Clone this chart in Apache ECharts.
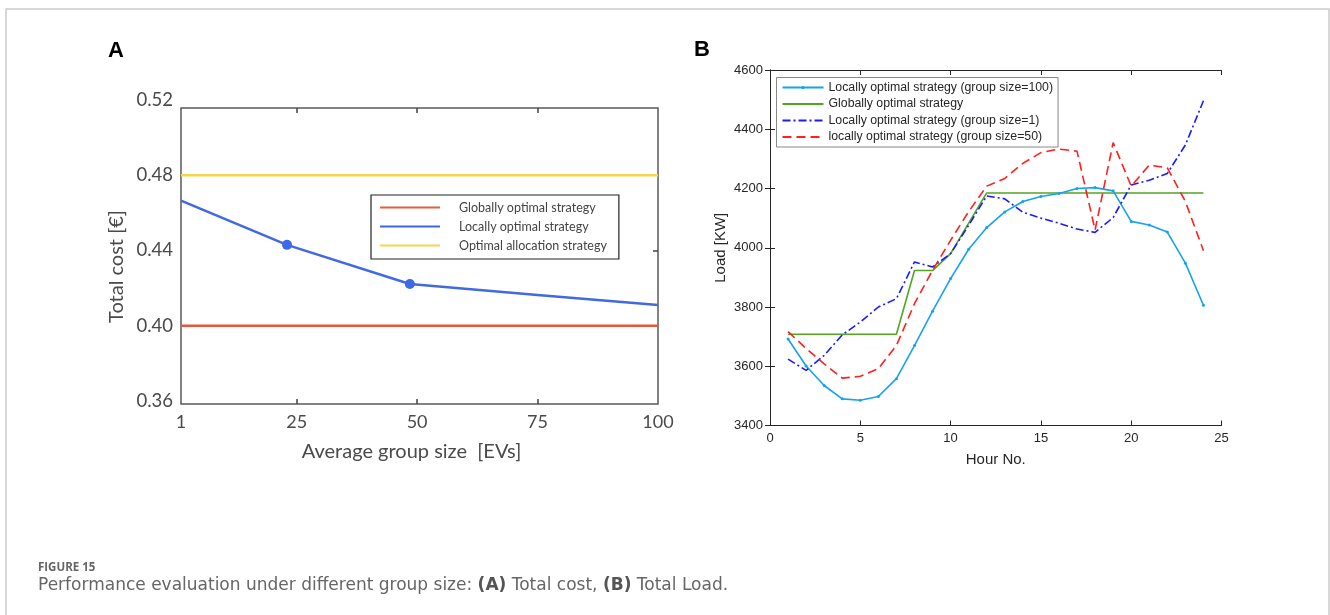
<!DOCTYPE html>
<html><head><meta charset="utf-8">
<script src="https://cdn.jsdelivr.net/npm/echarts@6/dist/echarts.min.js"></script>
<style>html,body{margin:0;padding:0;background:#fff}#c{width:1330px;height:615px}</style>
</head><body><div id="c"></div><script>
// ---- Panel A data ----
const groupSizes = [1, 23, 48.5, 75, 100];
const localCost = [0.4665, 0.443, 0.4222, 0.4164, 0.411];
const markedGroupSizes = [23, 48.5];
const globalCost = 0.40;
const allocationCost = 0.48;
const groupTicks = [1, 25, 50, 75, 100];
const costTicks = [0.36, 0.40, 0.44, 0.48, 0.52];
// ---- Panel B data ----
const hours = [1,2,3,4,5,6,7,8,9,10,11,12,13,14,15,16,17,18,19,20,21,22,23,24];
const load100 = [3692,3601,3535,3490,3485,3498,3558,3670,3786,3896,3995,4068,4121,4156,4173,4183,4200,4203,4192,4089,4077,4053,3948,3806];
const loadGlobal = [3708,3708,3708,3708,3708,3708,3708,3923,3923,3980,4083,4185,4185,4185,4185,4185,4185,4185,4185,4185,4185,4185,4185,4185];
const load1 = [3624,3586,3637,3706,3749,3800,3828,3952,3935,3980,4076,4175,4165,4120,4100,4083,4063,4052,4102,4212,4228,4251,4347,4496];
const load50 = [3717,3660,3608,3560,3566,3592,3670,3811,3924,4025,4122,4208,4234,4285,4321,4333,4326,4060,4355,4208,4279,4270,4156,3990];
const namesA = ['Globally optimal strategy', 'Locally optimal strategy', 'Optimal allocation strategy'];
const namesB = ['Locally optimal strategy (group size=100)', 'Globally optimal strategy ', 'Locally optimal strategy (group size=1)', 'locally optimal strategy (group size=50)'];

const zipB = arr => hours.map((h, i) => [h, arr[i]]);
const xMin = groupSizes[0], xMax = groupSizes[groupSizes.length - 1];
const fontA = 'Lato, "Open Sans", sans-serif';
const fontB = '"Liberation Sans", Arial, sans-serif';
const fontCap = '"DejaVu Sans", "Open Sans", sans-serif';
const gA = '#4a4a4a', gB = '#262626';

const chart = echarts.init(document.getElementById('c'), null, {renderer: 'canvas'});
chart.setOption({
  animation: false,
  backgroundColor: '#fff',
  graphic: [{type: 'rect', shape: {x: 6, y: 9, width: 1323, height: 640}, style: {fill: 'none', stroke: '#cccccc', lineWidth: 1.5}, silent: true}],
  title: [
    {text: 'A', left: 108, top: 40, padding: 0, textStyle: {fontFamily: 'Arial, sans-serif', fontWeight: 'bold', fontSize: 22, color: '#000'}},
    {text: 'B', left: 694, top: 39, padding: 0, textStyle: {fontFamily: 'Arial, sans-serif', fontWeight: 'bold', fontSize: 22, color: '#000'}},
    {text: 'FIGURE 15', left: 38, top: 562, padding: 0, textStyle: {fontFamily: '"Open Sans", sans-serif', fontWeight: 'bold', fontSize: 11.5, color: '#666'}},
    {text: 'Performance evaluation under different group size: {b|(A)} Total cost, {b|(B)} Total Load.', left: 38, top: 577, padding: 0,
     textStyle: {fontFamily: fontCap, fontSize: 17, fontWeight: 'normal', color: '#666',
       rich: {b: {fontFamily: fontCap, fontSize: 17, fontWeight: 'bold', color: '#555'}}}}
  ],
  grid: [
    {left: 181, top: 100, width: 477, height: 301, show: false},
    {left: 181, top: 108, width: 477, height: 296, show: true, borderColor: '#5a5a5a', borderWidth: 1.5, backgroundColor: 'transparent'},
    {left: 770, top: 70, width: 451.5, height: 355.5, show: false}
  ],
  legend: [
    {data: namesA, orient: 'vertical', left: 371, top: 195, padding: [6, 12, 7, 9], itemGap: 6,
     icon: 'rect', itemWidth: 60, itemHeight: 2,
     borderColor: '#222', borderWidth: 1.2, backgroundColor: '#fff',
     textStyle: {fontFamily: fontA, fontSize: 12.5, color: '#444', padding: [0, 0, 0, 14]}},
    {data: namesB.map((n, i) => i === 0 ? {name: n} : {name: n, itemStyle: {opacity: 0}}),
     orient: 'vertical', left: 776.5, top: 77.5, padding: [4, 5, 4, 5], itemGap: 4.5,
     itemWidth: 41, itemHeight: 4,
     borderColor: '#888', borderWidth: 1, backgroundColor: '#fff',
     textStyle: {fontFamily: fontB, fontSize: 12.3, color: gB}}
  ],
  xAxis: [
    {gridIndex: 0, type: 'value', min: xMin, max: xMax,
     axisLine: {show: false}, axisTick: {show: false}, splitLine: {show: false},
     axisLabel: {customValues: groupTicks, fontFamily: fontA, fontSize: 18, color: gA, margin: 12},
     name: 'Average group size  [EVs]', nameLocation: 'middle', nameGap: 41,
     nameTextStyle: {fontFamily: fontA, fontSize: 20, color: gA, padding: [0, 16, 0, 0]}},
    {gridIndex: 1, type: 'value', min: xMin, max: xMax, position: 'bottom',
     axisLine: {show: false}, splitLine: {show: false}, axisLabel: {show: false},
     axisTick: {show: true, inside: true, length: 5, customValues: groupTicks.slice(1, -1), lineStyle: {color: '#444', width: 1.5}}},
    {gridIndex: 1, type: 'value', min: xMin, max: xMax, position: 'top',
     axisLine: {show: false}, splitLine: {show: false}, axisLabel: {show: false},
     axisTick: {show: true, inside: true, length: 5, customValues: groupTicks.slice(1, -1), lineStyle: {color: '#444', width: 1.5}}},
    {gridIndex: 2, type: 'value', min: 0, max: 25, interval: 5, position: 'bottom',
     axisLine: {show: true, lineStyle: {color: gB, width: 1}}, splitLine: {show: false},
     axisTick: {inside: true, length: 5, lineStyle: {color: gB}},
     axisLabel: {fontFamily: fontB, fontSize: 13, color: gB, margin: 6},
     name: 'Hour No.', nameLocation: 'middle', nameGap: 27,
     nameTextStyle: {fontFamily: fontB, fontSize: 15, color: gB}},
    {gridIndex: 2, type: 'value', min: 0, max: 25, interval: 5, position: 'top',
     axisLine: {show: true, lineStyle: {color: gB, width: 1}}, splitLine: {show: false},
     axisTick: {inside: true, length: 5, lineStyle: {color: gB}}, axisLabel: {show: false}}
  ],
  yAxis: [
    {gridIndex: 0, type: 'value', min: 0.36, max: 0.52,
     axisLine: {show: false}, axisTick: {show: false}, splitLine: {show: false},
     axisLabel: {customValues: costTicks, formatter: v => v.toFixed(2), fontFamily: fontA, fontSize: 18.5, color: gA, margin: 8},
     name: 'Total cost [€]', nameLocation: 'middle', nameGap: 54,
     nameTextStyle: {fontFamily: fontA, fontSize: 20, color: gA, padding: [0, 32, 0, 0]}},
    {gridIndex: 1, type: 'value', min: 0.3584, max: 0.5155, position: 'right',
     axisLine: {show: false}, splitLine: {show: false}, axisLabel: {show: false},
     axisTick: {show: true, inside: true, length: 5, customValues: [0.40, 0.44, 0.48], lineStyle: {color: '#444', width: 1.5}}},
    {gridIndex: 2, type: 'value', min: 3400, max: 4600, interval: 200, position: 'left',
     axisLine: {show: true, lineStyle: {color: gB, width: 1}}, splitLine: {show: false},
     axisTick: {inside: true, length: 5, lineStyle: {color: gB}},
     axisLabel: {formatter: v => String(v), fontFamily: fontB, fontSize: 13, color: gB, margin: 7},
     name: 'Load [KW]', nameLocation: 'middle', nameGap: 42,
     nameTextStyle: {fontFamily: fontB, fontSize: 15, color: gB}},
    {gridIndex: 2, type: 'value', min: 3400, max: 4600, interval: 200, position: 'right',
     axisLine: {show: true, lineStyle: {color: gB, width: 1}}, splitLine: {show: false},
     axisTick: {inside: true, length: 5, lineStyle: {color: gB}}, axisLabel: {show: false}}
  ],
  series: [
    {name: namesA[2], type: 'line', xAxisIndex: 0, yAxisIndex: 0, symbol: 'none', color: '#f6d54c',
     lineStyle: {width: 2.5, color: '#f6d54c'}, data: [[xMin, allocationCost], [xMax, allocationCost]]},
    {name: namesA[0], type: 'line', xAxisIndex: 0, yAxisIndex: 0, symbol: 'none', color: '#e3603f',
     lineStyle: {width: 2.5, color: '#e3573a'}, data: [[xMin, globalCost], [xMax, globalCost]]},
    {name: namesA[1], type: 'line', xAxisIndex: 0, yAxisIndex: 0, color: '#5b7ee6',
     lineStyle: {width: 2.5, color: '#4169e1'}, itemStyle: {color: '#3f68e8'},
     data: groupSizes.map((g, i) => ({value: [g, localCost[i]],
       symbol: markedGroupSizes.includes(g) ? 'circle' : 'none', symbolSize: 10}))},
    {name: namesB[1], type: 'line', xAxisIndex: 3, yAxisIndex: 2, symbol: 'none', color: '#52a520',
     lineStyle: {width: 1.6, color: '#52a520'}, data: zipB(loadGlobal)},
    {name: namesB[0], type: 'line', xAxisIndex: 3, yAxisIndex: 2, symbol: 'circle', symbolSize: 3, color: '#15a2f2',
     lineStyle: {width: 1.6, color: '#15a2f2'}, itemStyle: {color: '#15a2f2'}, data: zipB(load100)},
    {name: namesB[2], type: 'line', xAxisIndex: 3, yAxisIndex: 2, symbol: 'none', color: '#1a1aff',
     lineStyle: {width: 1.6, color: '#1a1aff', type: [8, 3, 2, 3]}, data: zipB(load1)},
    {name: namesB[3], type: 'line', xAxisIndex: 3, yAxisIndex: 2, symbol: 'none', color: '#ff1f1f',
     lineStyle: {width: 1.6, color: '#ff1f1f', type: [9, 5]}, data: zipB(load50)}
  ]
});
</script></body></html>
